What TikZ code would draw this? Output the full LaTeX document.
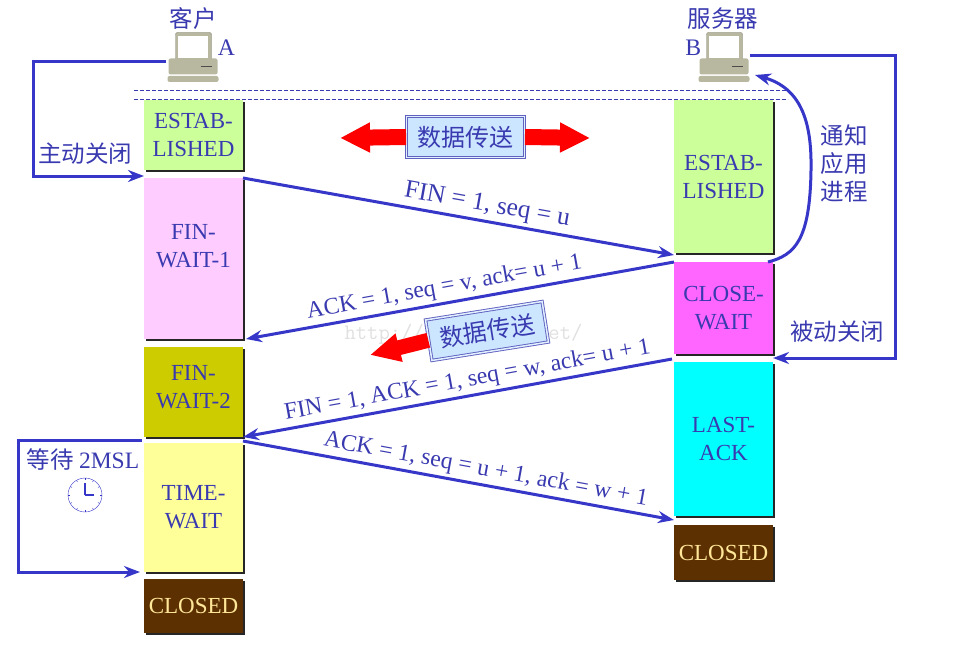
\documentclass[tikz,border=0pt]{standalone}
\usepackage{fontspec}
\setmainfont{Liberation Serif}
\newfontfamily\cjk{Noto Sans CJK SC}
\usetikzlibrary{positioning,arrows.meta,shadows}
\definecolor{inkblue}{HTML}{3A3AB0}
\definecolor{flowblue}{HTML}{3636C8}
\definecolor{packcol}{HTML}{B8B8A0}
\definecolor{estabcol}{HTML}{CCFF99}
\definecolor{fineonecol}{HTML}{FFCCFF}
\definecolor{fintwocol}{HTML}{CCCC00}
\definecolor{timecol}{HTML}{FFFF99}
\definecolor{closedcol}{HTML}{5C3000}
\definecolor{closedtext}{HTML}{FFE699}
\definecolor{closecol}{HTML}{FF66FF}
\definecolor{lastcol}{HTML}{00FFFF}
\definecolor{datacol}{HTML}{CCE6FF}
\tikzset{
    statebox/.style={minimum width=99pt, inner sep=0pt, outer sep=0pt, align=center, text=inkblue,
        font=\fontsize{23}{28}\selectfont, general shadow={shadow xshift=2pt, shadow yshift=-2pt, fill=black!85}},
    flow/.style={draw=flowblue, line width=3pt, -{Stealth[length=16pt, width=12pt]}},
    msg/.style={text=inkblue, font=\fontsize{23.7}{26}\selectfont, inner sep=3pt},
    note/.style={text=inkblue, align=center, font=\cjk\fontsize{23.5}{28}\selectfont, inner sep=0pt},
    databox/.style={draw=inkblue!80, double=datacol!60, double distance=1.5pt, line width=.9pt, fill=datacol,
        text=inkblue, minimum width=118pt, minimum height=41pt, inner sep=0pt, font=\cjk\fontsize{24}{28}\selectfont},
    bigarrow/.style={draw=red, line width=16pt, -{Triangle[length=30pt, width=28pt]}},
    computer/.pic={
        \filldraw[draw=packcol!70!black, fill=packcol, rounded corners=2pt] (-17,-25) rectangle (19,3);
        \fill[white] (-15,-21) rectangle (15,1);
        \fill[packcol, rounded corners=2pt] (-24,1) rectangle (25,17);
        \draw[black!70, line width=.8pt] (8,8.5) -- (19,8.5);
        \fill[packcol, rounded corners=2pt] (-25,18.5) rectangle (26,24.5);
    }
}
\begin{document}
\begin{tikzpicture}[x=1pt, y=-1pt]
    \useasboundingbox (0,0) rectangle (973,666);
    \node [text=black!12, font=\ttfamily\fontsize{22}{24}\selectfont] (mark) at (463.5,334) {http://blog.csdn.net/};

    \node [statebox, fill=estabcol, minimum height=70pt] (estabA) at (193.5,135) {ESTAB-\\LISHED};
    \node [statebox, fill=fineonecol, minimum height=161pt, below=8pt of estabA] (finA1) {FIN-\\WAIT-1\\[-3pt]};
    \node [statebox, fill=fintwocol, minimum height=90pt, below=8pt of finA1] (finA2) {FIN-\\WAIT-2\\[-18pt]};
    \node [statebox, fill=timecol, minimum height=129pt, below=6pt of finA2] (timeA) {TIME-\\WAIT};
    \node [statebox, fill=closedcol, text=closedtext, minimum height=54pt, below=7pt of timeA] (closedA) {CLOSED};

    \node [statebox, fill=estabcol, minimum height=153pt] (estabB) at (723.5,176.5) {ESTAB-\\LISHED};
    \node [statebox, fill=closecol, minimum height=92pt, below=9pt of estabB] (closeB) {CLOSE-\\WAIT};
    \node [statebox, fill=lastcol, minimum height=154pt, below=8pt of closeB] (lastB) {LAST-\\ACK};
    \node [statebox, fill=closedcol, text=closedtext, minimum height=55pt, below=9pt of lastB] (closedB) {CLOSED};

    \node [minimum width=52pt, minimum height=49pt, inner sep=0pt] (hostA) at (192.5,57.5) {};
    \node [minimum width=52pt, minimum height=49pt, inner sep=0pt] (hostB) at (723.5,57.5) {};
    \pic at (hostA) {computer};
    \pic at (hostB) {computer};
    \node [note] (nameA) at (193,19) {客户};
    \node [note] (nameB) at (723,19) {服务器};
    \node [msg, inner sep=0pt, right=-1pt of hostA.north east, yshift=-15pt] (letterA) {A};
    \node [msg, inner sep=0pt, left=-4pt of hostB.north west, yshift=-15pt] (letterB) {B};

    \coordinate (dashAL) at (134,90);
    \coordinate (dashAR) at (788,90);
    \coordinate (dashBL) at (134,99);
    \coordinate (dashBR) at (788,99);
    \draw [inkblue, dash pattern=on 4pt off 2pt] (dashAL) -- (dashAR);
    \draw [inkblue, dash pattern=on 4pt off 2pt] (dashBL) -- (dashBR);

    \node [databox] (dataTop) at (465.5,137) {数据传送};
    \coordinate (dataTopL) at (340,138);
    \coordinate (dataTopR) at (590,138);
    \draw [bigarrow] (dataTop.west) -- (dataTopL);
    \draw [bigarrow] (dataTop.east) -- (dataTopR);

    \node [databox, rotate=9] (dataMid) at (487,331) {数据传送};
    \coordinate (dataMidTip) at (370,355);
    \draw [bigarrow, line width=15pt, -{Triangle[length=30pt, width=27pt]}] (dataMid.west) -- (dataMidTip);

    \draw [flow] (finA1.north east) -- node [msg, above, sloped, pos=.56, font=\fontsize{25.5}{26}\selectfont] {FIN = 1, seq = u} ([yshift=-2pt]estabB.south west);
    \draw [flow] (closeB.north west) -- node [msg, above, sloped, pos=.53] {ACK = 1, seq = v, ack= u + 1} ([xshift=3pt]finA1.south east);
    \draw [flow] ([xshift=-2pt,yshift=-5pt]closeB.south west) -- node [msg, above, sloped, pos=.47] {FIN = 1, ACK = 1, seq = w, ack= u + 1} (finA2.south east);
    \draw [flow] ([yshift=2pt]timeA.north east) -- node [msg, above, sloped, pos=.557] {ACK = 1, seq = u + 1, ack = w + 1} ([yshift=-4pt]lastB.south west);

    \coordinate (loopA) at (33,176);
    \draw [flow] ([yshift=-4.5pt]hostA.west) -| (loopA) -- (loopA -| finA1.west);
    \node [note] (closeNoteA) at (85,154) {主动关闭};

    \coordinate (loopB) at (895,358);
    \draw [flow] ([yshift=2pt]hostB.east) -| (loopB) -- (loopB -| closeB.east);
    \node [note] (closeNoteB) at (837,332) {被动关闭};

    \coordinate (notifyMid) at (811,170);
    \coordinate (notifyEnd) at (755,75);
    \draw [flow] ([xshift=-5pt]closeB.north east) .. controls (795,255) and (810,240) .. (notifyMid) .. controls (812,120) and (800,88) .. (notifyEnd);
    \node [note] (notifyNote) at (844,164) {通知\\应用\\进程};

    \coordinate (loopC) at (18,572);
    \draw [flow] ([shift={(-2,-3)}]timeA.north west) -| (loopC) -- ([xshift=-4pt]timeA.south west);
    \node [note] (waitNote) at (83,459) {等待 {\rmfamily 2MSL}};

    \node [circle, draw=flowblue, minimum size=34pt, inner sep=0pt] (clock) at (85,495) {};
    \foreach \a in {0,30,...,330}
        \draw [flowblue] ([shift={(\a:15)}]clock.center) -- ([shift={(\a:17)}]clock.center);
    \draw [flowblue, line width=1.3pt] (clock.center) -- ++(-90:12);
    \draw [flowblue, line width=1.3pt] (clock.center) -- ++(0:9);
\end{tikzpicture}
\end{document}
